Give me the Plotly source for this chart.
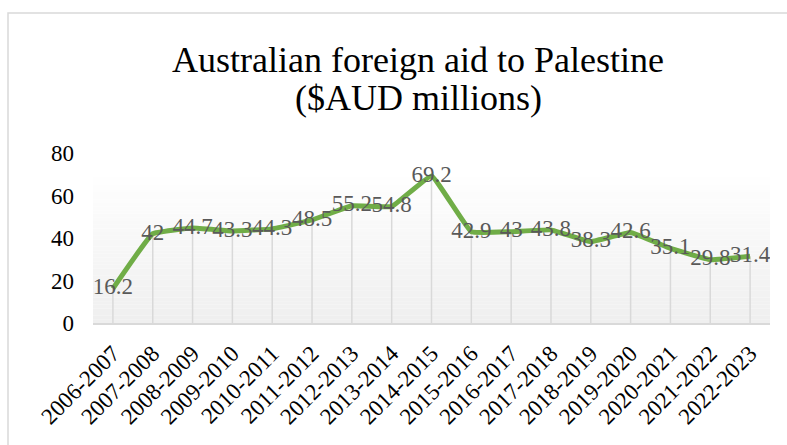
import plotly.graph_objects as go

years = ["2006-2007", "2007-2008", "2008-2009", "2009-2010", "2010-2011", "2011-2012",
         "2012-2013", "2013-2014", "2014-2015", "2015-2016", "2016-2017", "2017-2018",
         "2018-2019", "2019-2020", "2020-2021", "2021-2022", "2022-2023"]
aid = [16.2, 42, 44.7, 43.3, 44.3, 48.5, 55.2, 54.8, 69.2, 42.9, 43, 43.8, 38.3, 42.6, 35.1, 29.8, 31.4]
y_ticks = [0, 20, 40, 60, 80]
title_line1 = "Australian foreign aid to Palestine"
title_line2 = "($AUD millions)"

FONT = "Liberation Serif"
W, H = 787, 445
L, R, T, B = 93, 17, 153, 122
pw, ph = W - L - R, H - T - B

def px_to_paper_x(px):
    return (px - L) / pw

def px_to_paper_y(py):
    return (H - B - py) / ph

fig = go.Figure()

# gradient background of the plot area (layered strips)
n_strips = 40
top_val = 68.5
for i in range(n_strips):
    f = i / (n_strips - 1)
    g = int(round(254 - f * (254 - 239)))
    fig.add_shape(type="rect", xref="x domain", yref="y",
                  x0=0, x1=1,
                  y0=top_val * (1 - (i + 1) / n_strips), y1=top_val * (1 - i / n_strips),
                  fillcolor=f"rgb({g},{g},{g})", line_width=0, layer="below")

# drop lines
fig.add_trace(go.Scatter(
    x=years, y=aid, mode="markers",
    marker=dict(size=0.1, color="rgba(0,0,0,0)"),
    error_y=dict(type="data", symmetric=False, array=[0] * len(aid), arrayminus=aid,
                 width=0, color="#d9d9d9", thickness=1.5),
    hoverinfo="skip", showlegend=False,
))

# main line
fig.add_trace(go.Scatter(
    x=years, y=aid, mode="lines",
    line=dict(color="#70ad47", width=5, shape="spline", smoothing=0.25),
    showlegend=False,
))
# data labels on top
fig.add_trace(go.Scatter(
    x=years, y=aid, mode="text",
    text=[f"{v:g}" for v in aid], textposition="middle center",
    textfont=dict(family=FONT, size=23, color="#595959"),
    hoverinfo="skip", showlegend=False,
))

# outer chart frame
fig.add_shape(type="rect", xref="paper", yref="paper",
              x0=px_to_paper_x(8), x1=px_to_paper_x(W + 20),
              y0=px_to_paper_y(H + 20), y1=px_to_paper_y(13),
              line=dict(color="#d9d9d9", width=1.5), fillcolor="rgba(0,0,0,0)", layer="below")

fig.add_annotation(text=title_line1, xref="paper", yref="paper",
                   x=px_to_paper_x(418), y=px_to_paper_y(60), showarrow=False,
                   xanchor="center", yanchor="middle",
                   font=dict(family=FONT, size=36, color="#000000"))
fig.add_annotation(text=title_line2, xref="paper", yref="paper",
                   x=px_to_paper_x(418), y=px_to_paper_y(98), showarrow=False,
                   xanchor="center", yanchor="middle",
                   font=dict(family=FONT, size=36, color="#000000"))

fig.update_xaxes(
    type="category", showgrid=False, zeroline=False,
    showline=True, linecolor="#d9d9d9", linewidth=2,
    tickangle=-45, ticks="", ticklabelstandoff=6,
    tickfont=dict(family=FONT, size=23, color="#000000"),
    range=[-0.5, len(years) - 0.5],
)
fig.update_yaxes(
    range=[0, 80], tickvals=y_ticks, showgrid=False, zeroline=False, showline=False,
    ticks="", ticklabelstandoff=18,
    tickfont=dict(family=FONT, size=23, color="#000000"),
)

fig.update_layout(
    width=W, height=H,
    margin=dict(l=L, r=R, t=T, b=B, autoexpand=False),
    paper_bgcolor="#ffffff", plot_bgcolor="rgba(0,0,0,0)",
    font=dict(family=FONT),
    showlegend=False,
)

fig.write_html("out.html", config={"displayModeBar": False},
               post_script="document.body.style.margin='0';document.body.style.overflow='hidden';")
